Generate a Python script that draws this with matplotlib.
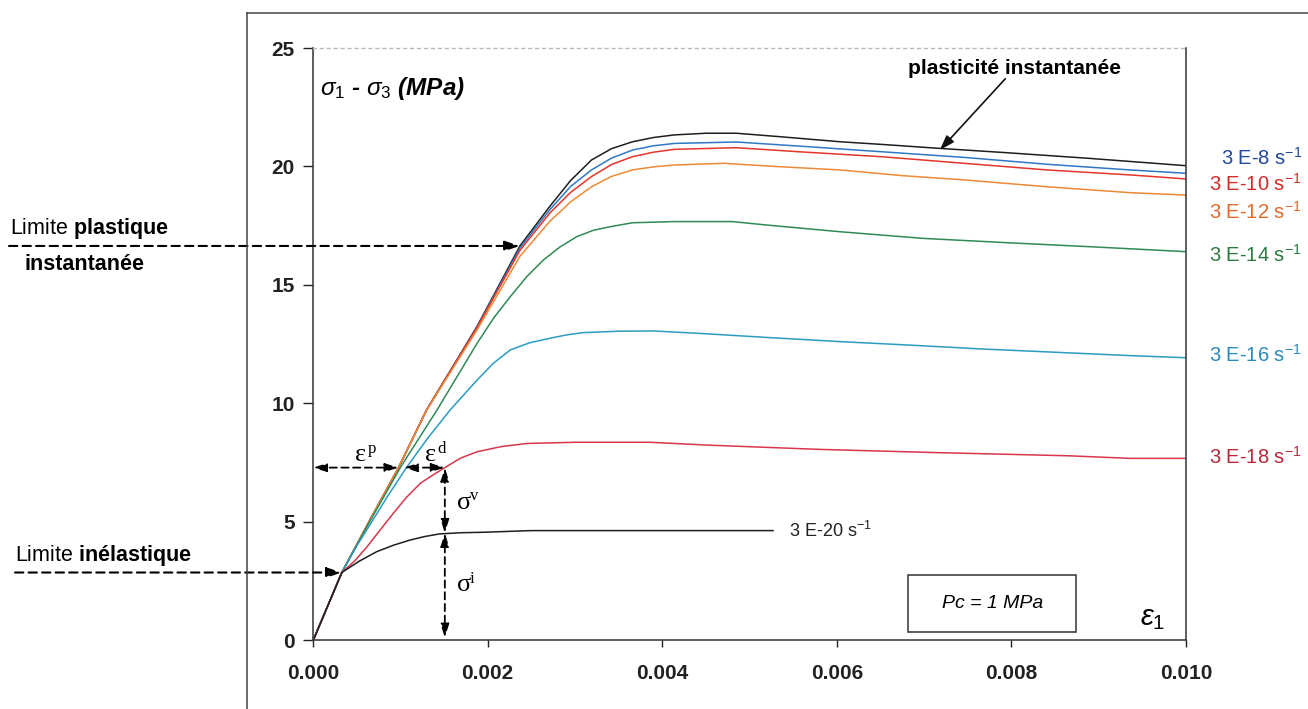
import matplotlib
matplotlib.use("Agg")
import matplotlib.pyplot as plt
from matplotlib.patches import Rectangle
from matplotlib.lines import Line2D
import matplotlib.transforms as mtransforms

plt.rcParams['font.family'] = ['Liberation Sans', 'DejaVu Sans']
plt.rcParams['mathtext.fontset'] = 'custom'
plt.rcParams['mathtext.rm'] = 'Liberation Sans'
plt.rcParams['mathtext.it'] = 'Liberation Sans:italic'
plt.rcParams['mathtext.bf'] = 'Liberation Sans:bold'

# ---------------- data (strain, deviatoric stress MPa) ----------------
x_inst = [0, 0.00002, 0.00033, 0.00065, 0.00098, 0.00130, 0.00188, 0.00237, 0.00271, 0.00295,
          0.00319, 0.00342, 0.00366, 0.00390, 0.00414, 0.00450, 0.00485, 0.00533, 0.00604,
          0.00651, 0.00718, 0.00794, 0.00889, 0.0100]
y_inst = [0, 0.14, 2.85, 5.05, 7.28, 9.71, 13.25, 16.64, 18.30, 19.40,
          20.27, 20.75, 21.04, 21.22, 21.33, 21.40, 21.40, 21.26, 21.04,
          20.93, 20.76, 20.58, 20.34, 20.03]

x_8 = [0, 0.00002, 0.00033, 0.00065, 0.00098, 0.00130, 0.00188, 0.00237, 0.00271, 0.00295,
       0.00319, 0.00342, 0.00366, 0.00390, 0.00414, 0.00485, 0.00556, 0.00651, 0.00746,
       0.00841, 0.00936, 0.0100]
y_8 = [0, 0.14, 2.85, 5.05, 7.28, 9.71, 13.22, 16.55, 18.16, 19.15,
       19.85, 20.35, 20.69, 20.87, 20.97, 21.03, 20.86, 20.62, 20.38,
       20.09, 19.85, 19.71]

x_10 = [0, 0.00002, 0.00033, 0.00065, 0.00098, 0.00130, 0.00188, 0.00237, 0.00271, 0.00295,
        0.00319, 0.00342, 0.00366, 0.00390, 0.00414, 0.00485, 0.00556, 0.00651, 0.00746,
        0.00841, 0.00936, 0.0100]
y_10 = [0, 0.14, 2.85, 5.05, 7.28, 9.71, 13.20, 16.45, 18.02, 18.90,
        19.57, 20.08, 20.41, 20.60, 20.72, 20.79, 20.62, 20.41, 20.13,
        19.85, 19.64, 19.47]

x_12 = [0, 0.00002, 0.00033, 0.00065, 0.00098, 0.00130, 0.00188, 0.00237, 0.00271, 0.00295,
        0.00319, 0.00342, 0.00366, 0.00390, 0.00414, 0.00471, 0.00533, 0.00604, 0.00675,
        0.00746, 0.00841, 0.00936, 0.0100]
y_12 = [0, 0.14, 2.85, 5.05, 7.28, 9.70, 13.10, 16.20, 17.67, 18.50,
        19.14, 19.58, 19.85, 19.98, 20.06, 20.13, 19.99, 19.85, 19.61,
        19.43, 19.14, 18.89, 18.79]

x_14 = [0, 0.00002, 0.00033, 0.00065, 0.00100, 0.00142, 0.00188, 0.00207, 0.00226, 0.00245,
        0.00264, 0.00283, 0.00302, 0.00321, 0.00340, 0.00366, 0.00414, 0.00480, 0.00518,
        0.00604, 0.00699, 0.00794, 0.00889, 0.0100]
y_14 = [0, 0.14, 2.85, 5.00, 7.28, 9.71, 12.53, 13.60, 14.50, 15.35,
        16.05, 16.60, 17.03, 17.30, 17.45, 17.62, 17.67, 17.67, 17.53,
        17.24, 16.96, 16.78, 16.61, 16.40]

x_16 = [0, 0.00002, 0.00033, 0.00048, 0.00065, 0.00086, 0.00107, 0.00132, 0.00157, 0.00188,
        0.00207, 0.00226, 0.00248, 0.00271, 0.00290, 0.00309, 0.00350, 0.00390, 0.00442,
        0.00523, 0.00604, 0.00680, 0.00766, 0.00851, 0.00936, 0.0100]
y_16 = [0, 0.14, 2.85, 3.85, 4.85, 6.10, 7.28, 8.55, 9.71, 10.98,
        11.70, 12.25, 12.55, 12.74, 12.88, 12.98, 13.04, 13.05, 12.95,
        12.77, 12.60, 12.46, 12.29, 12.15, 12.01, 11.92]

x_18 = [0, 0.00002, 0.00033, 0.00048, 0.00062, 0.00077, 0.00092, 0.00107, 0.00123, 0.00138,
        0.00151, 0.00169, 0.00188, 0.00216, 0.00245, 0.00300, 0.00386, 0.00452, 0.00580,
        0.00718, 0.00865, 0.00936, 0.0100]
y_18 = [0, 0.14, 2.85, 3.35, 3.94, 4.65, 5.35, 6.02, 6.62, 6.98,
        7.28, 7.68, 7.95, 8.17, 8.30, 8.35, 8.35, 8.23, 8.05,
        7.91, 7.78, 7.67, 7.67]

x_20 = [0, 0.00002, 0.00033, 0.00053, 0.00073, 0.00092, 0.00111, 0.00128, 0.00145, 0.00170,
        0.00195, 0.00250, 0.00527]
y_20 = [0, 0.14, 2.85, 3.33, 3.73, 4.00, 4.22, 4.37, 4.48, 4.53,
        4.55, 4.62, 4.62]

rate_labels = ['3 E-8 s$^{-1}$', '3 E-10 s$^{-1}$', '3 E-12 s$^{-1}$', '3 E-14 s$^{-1}$',
               '3 E-16 s$^{-1}$', '3 E-18 s$^{-1}$']
label_20 = '3 E-20 s$^{-1}$'

x_ticks = [0.000, 0.002, 0.004, 0.006, 0.008, 0.010]
y_ticks = [0, 5, 10, 15, 20, 25]

# annotation reference points
inel_pt = (0.00033, 2.85)
plast_pt = (0.00237, 16.64)
eps_y = 7.28
eps_p_end = 0.00098
eps_d_start = 0.00104
eps_d_end = 0.00151
sig_i_top = 4.52

# ---------------- figure ----------------
W, H = 1308, 709
fig = plt.figure(figsize=(W / 100, H / 100), dpi=100)
ax = fig.add_axes([313 / W, 1 - 640 / H, (1186 - 313) / W, (640 - 48) / H])

series = [
    (x_inst, y_inst, '#1e1e1e'),
    (x_8, y_8, '#2f78c4'),
    (x_10, y_10, '#e5352b'),
    (x_12, y_12, '#ee8a35'),
    (x_14, y_14, '#2f8a55'),
    (x_16, y_16, '#2a9cc2'),
    (x_18, y_18, '#d9364c'),
    (x_20, y_20, '#1e1e1e'),
]
for xs, ys, c in series:
    ax.plot(xs, ys, color=c, lw=1.1, solid_joinstyle='round')

ax.set_xlim(0, 0.010)
ax.set_ylim(0, 25)
ax.set_xticks(x_ticks)
ax.set_xticklabels(['%.3f' % v for v in x_ticks])
ax.set_yticks(y_ticks)
ax.set_yticklabels([str(v) for v in y_ticks])
for lab in ax.get_xticklabels() + ax.get_yticklabels():
    lab.set_fontweight('bold')
    lab.set_fontsize(15)
ax.tick_params(axis='x', direction='out', length=5, width=1, pad=12, colors='#222222')
ax.tick_params(axis='y', direction='out', length=7, width=1, pad=6, colors='#222222')
for s in ['left', 'bottom', 'right']:
    ax.spines[s].set_color('#333333')
    ax.spines[s].set_linewidth(1.1)
ax.spines['top'].set_color('#bbbbbb')
ax.spines['top'].set_linestyle((0, (2, 3)))
ax.spines['top'].set_linewidth(1.0)

# outer frame (left and top edges)
fig.add_artist(Line2D([247 / W, 247 / W], [0, 1 - 13 / H], transform=fig.transFigure,
                      color='#444444', lw=1.1))
fig.add_artist(Line2D([247 / W, 1], [1 - 13 / H, 1 - 13 / H], transform=fig.transFigure,
                      color='#444444', lw=1.1))

# axis titles inside plot
ax.text(0.00008, 23.3, r'$\sigma_{1}$ - $\sigma_{3}$ (MPa)', fontsize=17.5, fontweight='bold',
        fontstyle='italic', ha='left', va='center')
ax.text(0.00962, 0.95, r'$\varepsilon_{1}$', fontsize=21, ha='center', va='center')

# Pc box
ax.add_patch(Rectangle((0.00682, 0.34), 0.00192, 2.40, fill=False, ec='#333333', lw=1.1))
ax.text(0.00778, 1.55, 'Pc = 1 MPa', fontsize=14, fontstyle='italic', ha='center', va='center')

# right rate labels
label_cols = ['#23489a', '#d42a2a', '#e06a2a', '#2a7a40', '#2a8ab8', '#b8283a']
label_ys = [158, 184, 212, 255, 355, 457]
for t, c, yp in zip(rate_labels, label_cols, label_ys):
    fig.text(1302 / W, 1 - yp / H, t, color=c, fontsize=14.5, ha='right', va='center')
ax.text(0.00545, 4.62, label_20, fontsize=13, ha='left', va='center', color='#222222')

# plasticité instantanée
ax.text(0.00804, 24.15, 'plasticité instantanée', fontsize=15, fontweight='bold',
        ha='center', va='center')
ax.annotate('', xy=(0.00718, 20.69), xytext=(0.00793, 23.7),
            arrowprops=dict(arrowstyle='-|>,head_length=0.9,head_width=0.3', color='#111111',
                            lw=1.2, shrinkA=0, shrinkB=0), annotation_clip=False)

# left dashed arrows
blend = mtransforms.blended_transform_factory(fig.transFigure, ax.transData)
dash = (0, (4, 2.5))
for pt, xstart in [(plast_pt, 9 / W), (inel_pt, 15 / W)]:
    ax.annotate('', xy=pt, xycoords='data', xytext=(xstart, pt[1]), textcoords=blend,
                arrowprops=dict(arrowstyle='-|>,head_length=0.9,head_width=0.3', color='black',
                                lw=1.5, linestyle=dash, shrinkA=0, shrinkB=0),
                annotation_clip=False)

fig.text(10 / W, 1 - 229 / H, r'Limite $\mathbf{plastique}$', fontsize=15.5, ha='left', va='center')
fig.text(25 / W, 1 - 264 / H, 'instantanée', fontsize=15.5, fontweight='bold', ha='left', va='center')
fig.text(15 / W, 1 - 555 / H, r'Limite $\mathbf{inélastique}$', fontsize=15.5, ha='left', va='center')

# strain / stress decomposition arrows
dbl = dict(arrowstyle='<|-|>,head_length=0.8,head_width=0.25', color='black', lw=1.3,
           linestyle=dash, shrinkA=0, shrinkB=0)
ax.annotate('', xy=(0.0, eps_y), xytext=(eps_p_end, eps_y), arrowprops=dbl, annotation_clip=False)
ax.annotate('', xy=(eps_d_start, eps_y), xytext=(eps_d_end, eps_y), arrowprops=dbl)
ax.annotate('', xy=(eps_d_end, eps_y), xytext=(eps_d_end, sig_i_top), arrowprops=dbl)
ax.annotate('', xy=(eps_d_end, sig_i_top), xytext=(eps_d_end, 0.1), arrowprops=dbl)

def sym(x, y, base, sup):
    ax.text(x, y, base, fontsize=19, family='Liberation Serif', ha='left', va='baseline')
    ax.annotate(sup, xy=(x, y), xytext=(9, 6), textcoords='offset points', fontsize=12,
                family='Liberation Serif', ha='left', va='baseline')

sym(0.00048, 7.55, 'ε', 'p')
sym(0.00128, 7.55, 'ε', 'd')
sym(0.00165, 5.55, 'σ', 'v')
sym(0.00165, 2.05, 'σ', 'i')

fig.savefig('out.png', dpi=100)
